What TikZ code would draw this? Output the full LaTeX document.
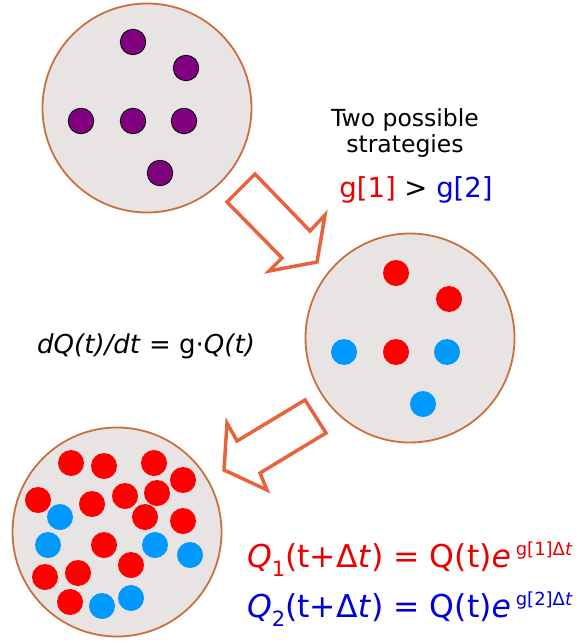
\documentclass[tikz,border=0pt]{standalone}
\usepackage{fontspec}
\setmainfont{DejaVu Sans}
\definecolor{dishfill}{RGB}{232,228,228}
\definecolor{dishline}{RGB}{200,112,64}
\definecolor{arrowc}{RGB}{232,98,60}
\definecolor{dotpurple}{RGB}{128,0,128}
\definecolor{dotred}{RGB}{255,0,0}
\definecolor{dotblue}{RGB}{0,153,255}
\definecolor{txtred}{RGB}{235,0,0}
\definecolor{txtblue}{RGB}{0,0,220}
\newcommand{\qline}[2]{\textit{Q}\raisebox{-0.3em}{\fontsize{21}{21}\selectfont #1}(t+Δ\textit{t}) = Q(t)\textit{e}\hspace{0.15em}\raisebox{0.36em}{\fontsize{18}{18}\selectfont g[#2]Δ\textit{t}}}
\begin{document}
\begin{tikzpicture}[x=1pt,y=-1pt,
 dish/.style={circle,draw=dishline,fill=dishfill,line width=1.8pt,minimum size=209pt,inner sep=0},
 dot/.style={circle,minimum size=26pt,inner sep=0},
 pdot/.style={dot,fill=dotpurple,draw=black,line width=0.8pt,minimum size=25.5pt},
 rdot/.style={dot,fill=dotred},
 bdot/.style={dot,fill=dotblue},
 bigarrow/.style={draw=arrowc,line width=3.5pt,line join=miter},
 lbl/.style={inner sep=0}]
\useasboundingbox (0,0) rectangle (580,644);
% dishes
\node[dish] (d1) at (147,108) {};
\node[dish] (d2) at (410,338) {};
\node[dish] (d3) at (117,532) {};
% dish 1
\foreach \n/\x/\y in {1/133/42,2/186/68,3/81/121,4/133/121,5/184/121,6/160/173}
  \node[pdot] (p\n) at (\x,\y) {};
% dish 2
\foreach \n/\x/\y in {1/396/273,2/449/299,3/396/352}
  \node[rdot] (r\n) at (\x,\y) {};
\foreach \n/\x/\y in {1/344/352,2/447/352,3/423/404}
  \node[bdot] (b\n) at (\x,\y) {};
% dish 3
\foreach \n/\x/\y in {1/71/463,2/104/466,3/154/463,4/183/480,5/38/500,6/92/504,7/125/496,8/157/493,9/145/517,10/183/521,11/104/545,12/131/565,13/45/577,14/78/573,15/70/602}
  \node[rdot] (s\n) at (\x,\y) {};
\foreach \n/\x/\y in {1/60/517,2/48/545,3/155/545,4/190/555,5/102/606,6/131/598}
  \node[bdot] (c\n) at (\x,\y) {};
% arrows
\draw[bigarrow] (255,174) -- (310,231) -- (325,215) -- (317,262) -- (269,271) -- (282,258) -- (227,202) -- cycle;
\draw[bigarrow] (305,400) -- (326,433) -- (260,473) -- (267,490) -- (224,470) -- (227,423) -- (237,441) -- cycle;
% texts
\node[lbl,anchor=base,align=center,font=\fontsize{23.5}{26}\selectfont] (strat) at (405,153) {Two possible\\strategies};
\node[lbl,anchor=base,font=\fontsize{27.5}{32}\selectfont] (ineq) at (416,197) {\textcolor{txtred}{g[1]} > \textcolor{txtblue}{g[2]}};
\node[lbl,anchor=base west,font=\fontsize{26}{30}\selectfont] (ode) at (37,353) {\textit{dQ(t)/dt} = g·\textit{Q(t)}};
\node[lbl,anchor=base west,text=txtred,font=\fontsize{31.5}{36}\selectfont] (q1) at (247,567) {\qline{1}{1}};
\node[lbl,anchor=base west,text=txtblue,font=\fontsize{31.5}{36}\selectfont] (q2) at (247,617) {\qline{2}{2}};
\end{tikzpicture}
\end{document}
